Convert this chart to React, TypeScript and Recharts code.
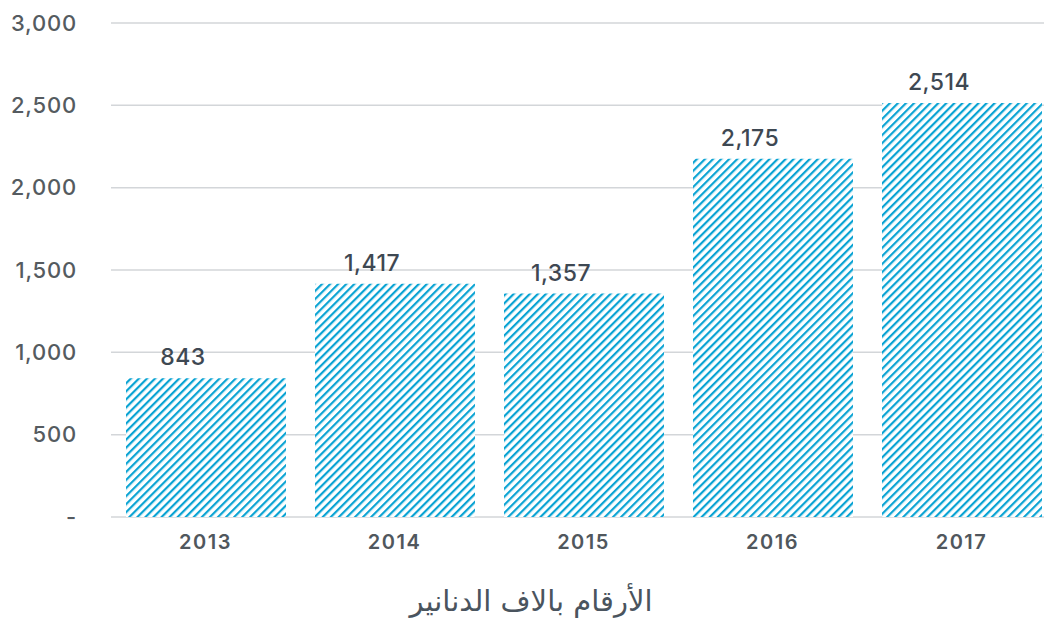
import { Bar, BarChart, CartesianGrid, LabelList, XAxis, YAxis, Label } from "recharts";

const years = ["2013", "2014", "2015", "2016", "2017"];
const amounts = [843, 1417, 1357, 2175, 2514];
const yTicks = [0, 500, 1000, 1500, 2000, 2500, 3000];
const axisTitle = "الأرقام بالاف الدنانير";

const data = years.map((year, i) => ({ year, amount: amounts[i] }));

const fmt = (v: number) => (v === 0 ? "-" : v.toLocaleString("en-US"));

const W = 1062;
const H = 626;

// value labels sit a bit left of the bar centre in the original
const ValueLabel = (props: any) => {
  const { x, y, width, value } = props;
  return (
    <text
      x={x + width / 2 - 23}
      y={y - 13}
      textAnchor="middle"
      fill="#3e4852"
      fontSize={23}
      fontWeight={500}
      letterSpacing={0.5}
    >
      {Number(value).toLocaleString("en-US")}
    </text>
  );
};

export default function App() {
  return (
    <div style={{ position: "absolute", left: 0, top: 0, width: 1044, height: H, overflow: "hidden", background: "#fff" }}>
      <BarChart
        width={W}
        height={H}
        data={data}
        margin={{ top: 23, right: 6, bottom: 15, left: 0 }}
        style={{ fontFamily: "Inter, 'DejaVu Sans', sans-serif" }}
      >
        <defs>
          <pattern id="hatch" width="5.7" height="5.7" patternUnits="userSpaceOnUse" patternTransform="rotate(45)">
            <rect width="5.7" height="5.7" fill="#fff" />
            <line x1="0" y1="0" x2="0" y2="5.7" stroke="#0aa3d3" strokeWidth="4.4" />
          </pattern>
        </defs>
        <CartesianGrid vertical={false} stroke="#d3d6d9" strokeWidth={1.5} />
        <XAxis
          dataKey="year"
          axisLine={false}
          tickLine={false}
          height={94}
          tick={{ fill: "#50575d", fontSize: 20, fontWeight: 600, letterSpacing: 1.5 }}
          tickMargin={12}
        >
          <Label
            content={() => (
              <text
                x={W / 2}
                y={611}
                textAnchor="middle"
                fill="#4a545e"
                fontSize={29}
                fontFamily="'DejaVu Sans', sans-serif"
              >
                {axisTitle}
              </text>
            )}
          />
        </XAxis>
        <YAxis
          domain={[0, 3000]}
          ticks={yTicks}
          tickFormatter={fmt}
          axisLine={false}
          tickLine={false}
          width={111}
          tickMargin={28}
          tick={{ fill: "#555b60", fontSize: 22, fontWeight: 500, letterSpacing: 0.8 }}
        />
        <Bar dataKey="amount" fill="url(#hatch)" barSize={160} isAnimationActive={false}>
          <LabelList dataKey="amount" content={ValueLabel} />
        </Bar>
      </BarChart>
    </div>
  );
}
